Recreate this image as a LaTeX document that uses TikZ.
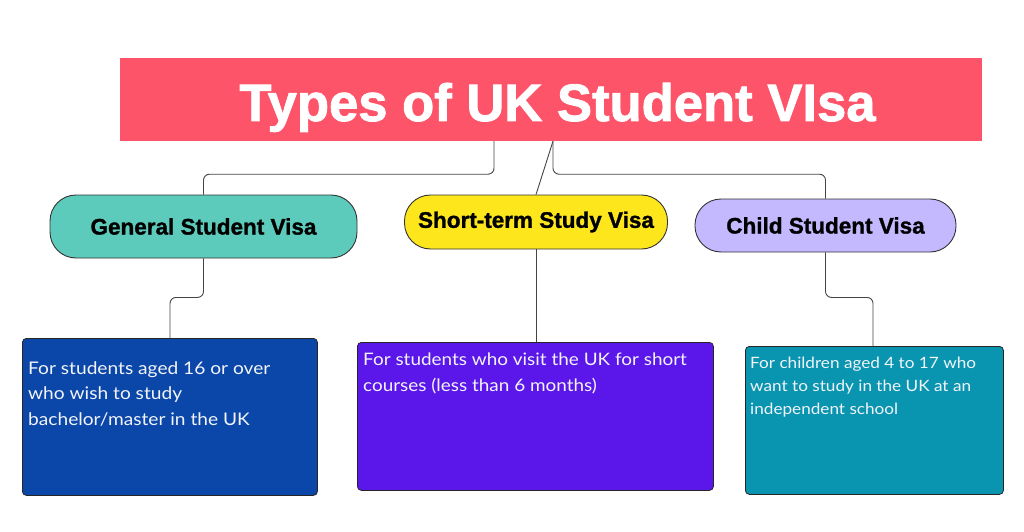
\documentclass[tikz,border=0pt]{standalone}
\usepackage{fontspec}
\setmainfont{Lato}[FakeStretch=1.1]
\newfontfamily\headfont{Liberation Sans}[BoldFeatures={FakeBold=1.6}]
\newfontfamily\pillfontfam{Liberation Sans}[BoldFeatures={FakeBold=1.2}]
\usetikzlibrary{calc}
\definecolor{titlered}{HTML}{FE5469}
\definecolor{pillteal}{HTML}{5CCBBB}
\definecolor{pillyellow}{HTML}{FDE61C}
\definecolor{pilllav}{HTML}{C4B8FF}
\definecolor{boxblue}{HTML}{0B47A8}
\definecolor{boxpurple}{HTML}{5B17E9}
\definecolor{boxteal}{HTML}{0995B0}
\definecolor{lineg}{HTML}{444444}
\definecolor{bodywhite}{HTML}{F2F4FA}
\tikzset{
  titlebox/.style={fill=titlered, inner sep=0pt, minimum width=862pt, minimum height=83pt,
    text height=50pt, text depth=7pt,
    text=white, font=\headfont\bfseries\fontsize{52.6}{60}\selectfont},
  pill/.style={draw=black!80, line width=0.9pt, rounded corners=26pt, inner sep=0pt,
    font=\pillfontfam\bfseries\fontsize{22.5}{26}\selectfont},
  infobox/.style={draw=black!85, line width=0.8pt, rounded corners=4pt, inner sep=0pt, anchor=north west},
  bodytext/.style={text=bodywhite, align=left, inner sep=0pt, anchor=north west},
  conn/.style={draw=lineg, line width=0.9pt, rounded corners=6pt}
}
\begin{document}
\begin{tikzpicture}[x=1pt,y=-1pt]
\useasboundingbox (0,0) rectangle (1024,532);
\fill[white] (0,0) rectangle (1024,532);

\node[titlebox] (title) at (551,99.5) {\hspace*{13pt}Types of UK Student VIsa};

\node[pill, fill=pillteal, minimum width=307pt, minimum height=63pt] (gen) at (203.5,226.5) {General Student Visa};
\node[pill, fill=pillyellow, minimum width=263pt, minimum height=54pt] (short) at (536,222) {Short-term Study Visa};
\node[pill, fill=pilllav, minimum width=261pt, minimum height=53pt] (child) at (825.5,225.5) {Child Student Visa};

\node[infobox, fill=boxblue, minimum width=295pt, minimum height=157pt] (genbox) at (22,338) {};
\node[infobox, fill=boxpurple, minimum width=356pt, minimum height=148pt] (shortbox) at (357,342) {};
\node[infobox, fill=boxteal, minimum width=258pt, minimum height=148pt] (childbox) at (745,346) {};

\node[bodytext, font=\fontsize{17.4}{25.5}\selectfont] (gentext) at (28,361)
  {For students aged 16 or over\\who wish to study\\bachelor/master in the UK};
\node[bodytext, font=\fontsize{17.2}{25.5}\selectfont] (shorttext) at (363,353)
  {For students who visit the UK for short\\courses (less than 6 months)};
\node[bodytext, font=\fontsize{15.6}{23}\selectfont] (childtext) at (750,357)
  {For children aged 4 to 17 who\\want to study in the UK at an\\independent school};

\draw[conn] ([xshift=-57pt]title.south) -- ++(0,33) -| (gen.north);
\draw[conn] ([xshift=2pt]title.south) -- ++(0,33) -| (child.north);
\draw[conn] ([xshift=2pt]title.south) -- (short.north);

\draw[conn] (gen.south) -- ++(0,39) -| ($(genbox.north west)+(148,0)$);
\draw[conn] (short.south) -- (short.south |- shortbox.north);
\draw[conn] (child.south) -- ++(0,45) -| ($(childbox.north west)+(128,0)$);
\end{tikzpicture}
\end{document}
